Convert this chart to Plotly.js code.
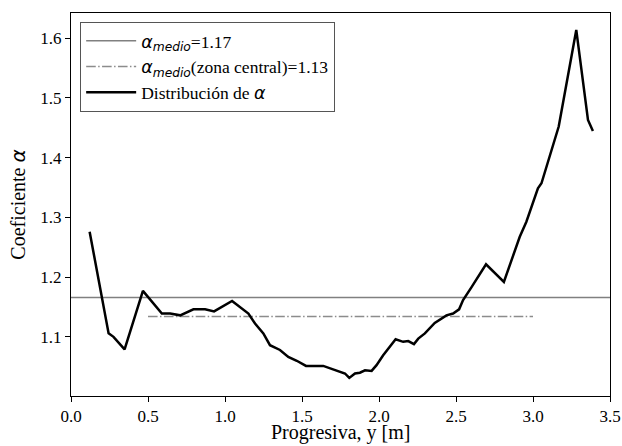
<!DOCTYPE html>
<html>
<head>
<meta charset="utf-8">
<script src="https://cdn.plot.ly/plotly-3.0.1.min.js"></script>
<style>
html,body{margin:0;padding:0;background:#fff}
#chart .xtick text, #chart .ytick text, #chart .legendtext { font-family: 'Liberation Serif' !important; }
</style>
</head>
<body>
<div id="chart" style="width:622px;height:446px"></div>
<script>
// Distribution of alpha along the progresiva
var progresiva = [0.121, 0.244, 0.276, 0.348, 0.467, 0.59, 0.644, 0.709, 0.795, 0.871, 0.929, 1.046,
  1.152, 1.195, 1.249, 1.292, 1.357, 1.411, 1.466, 1.526, 1.638, 1.725, 1.779, 1.807, 1.844, 1.876,
  1.909, 1.952, 1.984, 2.027, 2.06, 2.108, 2.157, 2.19, 2.227, 2.255, 2.298, 2.33, 2.362, 2.438,
  2.481, 2.52, 2.546, 2.6, 2.695, 2.811, 2.914, 2.957, 3.032, 3.055, 3.156, 3.167, 3.281, 3.357, 3.389];
var alphaDist = [1.276, 1.106, 1.100, 1.079, 1.177, 1.139, 1.139, 1.136, 1.146, 1.146, 1.1425, 1.160,
  1.139, 1.1224, 1.1057, 1.086, 1.078, 1.0665, 1.060, 1.0514, 1.0514, 1.043, 1.0387, 1.0313, 1.0387, 1.040,
  1.044, 1.043, 1.0526, 1.0693, 1.0805, 1.096, 1.0917, 1.093, 1.0878, 1.097, 1.1057, 1.115, 1.1234, 1.136,
  1.139, 1.146, 1.1615, 1.1827, 1.2215, 1.192, 1.2675, 1.2926, 1.3486, 1.357, 1.4407, 1.452, 1.6137, 1.463, 1.4445];

var xRange = [0, 3.5];
var yRange = [1.001, 1.642];
var alphaMedio = 1.166;
var centralZone = [0.5, 3.0];
var alphaCentral = 1.134;

var xTicks = [0, 0.5, 1.0, 1.5, 2.0, 2.5, 3.0, 3.5];
var xTickLabels = ['0.0', '0.5', '1.0', '1.5', '2.0', '2.5', '3.0', '3.5'];
var yTicks = [1.1, 1.2, 1.3, 1.4, 1.5, 1.6];
var yTickLabels = ['1.1', '1.2', '1.3', '1.4', '1.5', '1.6'];

var SERIF = 'Liberation Serif';
var A = "<span style=\"font-family:'DejaVu Sans';font-style:italic\">α</span>";
var SUB = "<sub><span style=\"font-family:'DejaVu Sans';font-style:italic\">medio</span></sub>";

var traces = [
  {x: xRange, y: xRange.map(function(){return alphaMedio;}), mode: 'lines',
   line: {color: '#808080', width: 1.5}, name: A + SUB + '=1.17'},
  {x: centralZone, y: centralZone.map(function(){return alphaCentral;}), mode: 'lines',
   line: {color: '#8c8c8c', width: 1.5, dash: '9.6px,2.4px,1.5px,2.4px'}, name: A + SUB + '(zona central)=1.13'},
  {x: progresiva, y: alphaDist, mode: 'lines',
   line: {color: '#000000', width: 2.5}, name: 'Distribución de ' + A}
];

var axisCommon = {
  showline: true, linecolor: '#000', linewidth: 1, mirror: true,
  ticks: 'outside', ticklen: 5, tickwidth: 1, tickcolor: '#000',
  showgrid: false, zeroline: false, automargin: false,
  tickfont: {family: SERIF, size: 17, color: '#000'}
};

var layout = {
  width: 622, height: 446,
  margin: {l: 71, r: 12, t: 13, b: 50},
  paper_bgcolor: '#fff', plot_bgcolor: '#fff',
  font: {family: SERIF, color: '#000'},
  showlegend: true,
  legend: {x: 0.017, y: 0.977, xanchor: 'left', yanchor: 'top', itemwidth: 50,
    bgcolor: 'rgba(255,255,255,0.8)', bordercolor: '#555', borderwidth: 1,
    font: {family: SERIF, size: 17.5, color: '#000'}, tracegroupgap: 0},
  xaxis: Object.assign({}, axisCommon, {range: xRange, tickvals: xTicks, ticktext: xTickLabels}),
  yaxis: Object.assign({}, axisCommon, {range: yRange, tickvals: yTicks, ticktext: yTickLabels,
    title: {text: 'Coeficiente ' + A, font: {family: SERIF, size: 20}, standoff: 9}}),
  annotations: [{text: 'Progresiva, y [m]', xref: 'paper', yref: 'paper', x: 0.5, y: -0.094,
    xanchor: 'center', yanchor: 'middle', showarrow: false,
    font: {family: SERIF, size: 20, color: '#000'}}]
};

Plotly.newPlot('chart', traces, layout, {displayModeBar: false, staticPlot: true});
</script>
</body>
</html>
